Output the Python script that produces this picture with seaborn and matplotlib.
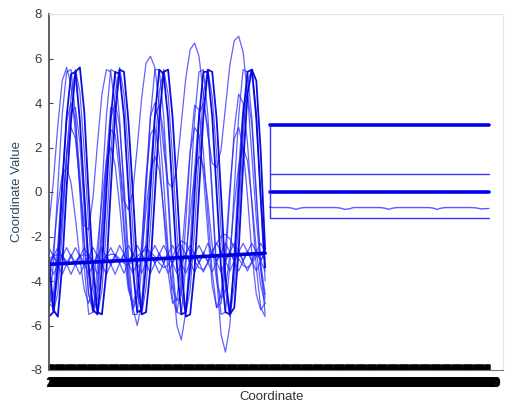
import matplotlib
matplotlib.use("Agg")
import matplotlib.pyplot as plt
import seaborn as sns
import numpy as np

sns.set_theme(style="white")
plt.rcParams['font.family'] = ['Liberation Sans', 'DejaVu Sans']

# ---------------- data ----------------
n_coords = 400
coord_labels = [str(i) for i in range(1, n_coords + 1)]
wave_coords = list(range(1, 200, 4))          # 50 sampled coordinates of the oscillating part
const_coords = [201, 400]                     # coordinates spanned by the constant lines

s_a = [-5.3, -3.2, 0.2, 3.5, 5.4, 5.5, 3.4, 0.0, -3.4, -5.5,
       -5.4, -3.3, 0.1, 3.4, 5.5, 5.4, 3.3, -0.1, -3.5, -5.5,
       -5.5, -3.4, 0.0, 3.4, 5.5, 5.5, 3.4, 0.1, -3.3, -5.4,
       -5.5, -3.4, -0.1, 3.3, 5.4, 5.5, 3.5, 0.0, -3.4, -5.5,
       -5.4, -3.3, 0.1, 3.4, 5.5, 5.4, 3.3, 0.0, -3.4, -5.5]
s_b = [-4.2, -5.4, -4.5, -1.8, 1.6, 4.3, 5.5, 4.5, 1.8, -1.6,
       -4.4, -5.5, -4.4, -1.7, 1.7, 4.4, 5.6, 4.4, 1.7, -1.7,
       -4.4, -5.5, -4.3, -1.6, 1.8, 4.5, 5.5, 4.4, 1.6, -1.8,
       -4.5, -5.5, -4.4, -1.7, 1.7, 4.4, 5.5, 4.3, 1.7, -1.7,
       -4.4, -5.6, -4.2, -1.2, 2.4, 5.0, 5.5, 3.6, -0.5, -4.0]
s_c = [-3.0, -5.3, -5.6, -3.3, 0.2, 3.2, 5.4, 5.6, 3.6, -0.2,
       -3.5, -5.4, -5.5, -3.6, 0.1, 3.5, 5.5, 5.4, 3.2, 0.0,
       -3.4, -5.5, -5.4, -3.4, -0.1, 3.3, 5.4, 5.5, 3.4, 0.1,
       -3.3, -5.6, -5.5, -3.5, 0.0, 3.4, 5.5, 5.4, 3.3, -0.1,
       -3.8, -5.5, -5.2, -2.6, 1.2, 4.4, 5.5, 5.0, 1.8, -2.6]
s_d = [-5.6, -5.4, -3.2, 0.2, 3.4, 5.3, 5.4, 3.2, -0.1, -3.3,
       -5.3, -5.5, -3.4, 0.0, 3.3, 5.4, 5.3, 3.4, 0.1, -3.4,
       -5.4, -5.3, -3.3, 0.1, 3.4, 5.5, 5.3, 3.3, 0.0, -3.3,
       -5.5, -5.4, -3.4, -0.1, 3.3, 5.4, 5.4, 3.4, 0.0, -3.4,
       -5.4, -5.5, -3.3, 0.0, 3.4, 5.4, 5.5, 3.3, -0.2, -3.4]
s_rise = [-1.5, 0.5, 3.0, 5.0, 5.6, 4.8, 2.6, 0.2, -1.5, -1.7,
          -0.2, 2.2, 4.4, 5.5, 5.4, 3.8, 1.4, -0.4, -0.8, 0.0,
          2.0, 4.2, 5.8, 6.1, 5.6, 3.9, 1.9, 0.4, 0.2, 1.1,
          3.1, 5.1, 6.4, 6.7, 6.1, 4.4, 2.6, 1.3, 1.1, 1.9,
          3.8, 5.7, 6.8, 7.0, 6.3, 4.4, 1.6, -1.2, -3.5, -4.8]
s_deep = [-5.0, -5.2, -3.8, -1.0, 1.8, 3.6, 3.8, 2.2, -0.8, -3.8,
          -5.4, -4.8, -2.4, 0.8, 3.3, 4.0, 3.0, 0.4, -2.8, -5.2,
          -6.0, -5.0, -2.2, 1.0, 3.4, 3.9, 2.6, -0.4, -3.8, -6.0,
          -6.65, -5.4, -2.4, 1.0, 3.5, 4.0, 2.9, -0.2, -3.8, -6.4,
          -7.2, -6.0, -2.8, 1.0, 3.8, 4.4, 3.0, -0.2, -3.2, -4.6]
s_q4 = [-5.0, -4.6, -2.4, 0.6, 3.2, 4.0, 3.2, 0.8, -2.2, -4.6,
        -5.4, -4.4, -1.8, 1.4, 3.8, 3.6, 1.6, -1.4, -4.0, -5.3,
        -4.8, -2.6, 0.6, 3.4, 4.0, 3.0, 0.4, -2.6, -4.8, -5.4,
        -4.2, -1.4, 1.8, 3.9, 3.7, 1.8, -1.0, -3.6, -5.2, -5.0,
        -3.2, -0.2, 2.8, 4.4, 4.0, 2.2, -0.6, -3.4, -5.2, -5.6]
s_q3 = [-3.8, -4.8, -3.6, -1.0, 1.6, 2.9, 2.4, 0.4, -2.4, -4.6,
        -5.2, -4.0, -1.4, 1.2, 2.8, 2.6, 0.8, -1.8, -4.2, -5.2,
        -4.6, -2.4, 0.6, 2.6, 2.9, 1.6, -1.0, -3.6, -5.0, -4.8,
        -3.0, -0.6, 1.8, 2.9, 2.6, 0.8, -1.8, -4.2, -5.2, -4.6,
        -2.6, 0.2, 2.4, 2.9, 2.0, -0.2, -2.8, -4.6, -5.3, -5.0]
s_q1 = [-4.0, -2.6, -0.6, 0.8, 1.1, 0.4, -1.2, -3.0, -4.4, -5.0,
        -4.2, -2.4, -0.4, 1.4, 2.0, 1.2, -0.6, -2.8, -4.4, -5.0,
        -4.4, -2.8, -0.8, 0.9, 1.6, 1.0, -0.8, -2.8, -4.3, -4.9,
        -4.6, -3.0, -1.0, 0.8, 1.6, 1.2, -0.4, -2.4, -4.0, -4.8,
        -4.4, -2.8, -0.6, 1.2, 2.0, 1.4, -0.4, -2.6, -4.2, -5.0]

low_1 = [-2.5, -2.9, -3.3, -2.9, -2.5, -2.9, -3.3, -2.9, -2.5, -2.9,
         -3.3, -2.9, -2.5, -2.9, -3.3, -2.9, -2.4, -2.8, -3.2, -2.8,
         -2.4, -2.8, -3.2, -2.8, -2.4, -2.8, -3.2, -2.8, -2.4, -2.8,
         -3.2, -2.8, -2.4, -2.8, -3.2, -2.8, -2.3, -2.7, -3.1, -2.7,
         -2.3, -2.7, -3.1, -2.7, -2.3, -2.7, -3.1, -2.7, -2.3, -2.7]
low_2 = [-3.3, -2.9, -2.5, -2.9, -3.3, -2.9, -2.5, -2.9, -3.3, -2.9,
         -2.5, -2.9, -3.3, -2.9, -2.5, -2.9, -3.2, -2.8, -2.4, -2.8,
         -3.2, -2.8, -2.4, -2.8, -3.2, -2.8, -2.4, -2.8, -3.2, -2.8,
         -2.4, -2.8, -3.2, -2.8, -2.4, -2.8, -3.1, -2.7, -2.3, -2.7,
         -3.1, -2.7, -2.3, -2.7, -3.1, -2.7, -2.3, -2.7, -3.1, -2.7]
low_3 = [-3.25, -3.7, -3.25, -2.8, -3.25, -3.7, -3.25, -2.8, -3.25, -3.7,
         -3.25, -2.8, -3.25, -3.7, -3.25, -2.8, -3.2, -3.65, -3.2, -2.75,
         -3.2, -3.65, -3.2, -2.75, -3.2, -3.65, -3.2, -2.75, -3.2, -3.65,
         -3.2, -2.75, -3.15, -3.6, -3.15, -2.7, -3.15, -3.6, -3.15, -2.7,
         -3.1, -3.55, -3.1, -2.65, -3.1, -3.55, -3.1, -2.65, -3.1, -3.55]
low_4 = [-3.25, -2.8, -3.25, -3.7, -3.25, -2.8, -3.25, -3.7, -3.25, -2.8,
         -3.25, -3.7, -3.25, -2.8, -3.25, -3.7, -3.2, -2.75, -3.2, -3.65,
         -3.2, -2.75, -3.2, -3.65, -3.2, -2.75, -3.2, -3.65, -3.2, -2.75,
         -3.2, -3.65, -3.15, -2.7, -3.15, -3.6, -3.15, -2.7, -3.15, -3.6,
         -3.1, -2.65, -3.1, -3.55, -3.1, -2.65, -3.1, -3.55, -3.1, -2.65]
low_5 = [-3.0, -2.9, -2.8, -2.9, -3.1, -3.2, -3.1, -2.9, -2.8, -2.9,
         -3.1, -3.2, -3.1, -2.9, -2.8, -2.8, -3.0, -3.2, -3.3, -3.1,
         -2.9, -2.7, -2.6, -2.7, -2.9, -3.2, -3.4, -3.3, -2.9, -2.5,
         -2.2, -2.3, -2.7, -3.1, -3.4, -3.5, -3.2, -2.7, -2.3, -2.0,
         -1.9, -2.1, -2.5, -3.0, -3.3, -3.4, -3.2, -2.9, -2.8, -3.0]
trend_coords = [1, 40, 80, 120, 160, 197]
trend_vals = [-3.25, -3.15, -3.05, -2.95, -2.85, -2.75]

const_top = [3.0, 3.0]
const_upper = [0.8, 0.8]
const_zero = [0.0, 0.0]
const_low_coords = [201, 201, 400]
const_low = [3.0, -1.15, -1.15]
wavy_coords = list(range(201, 397, 4)) + [400]
wavy_vals = [-0.68, -0.7, -0.7, -0.7, -0.7, -0.72, -0.78, -0.72, -0.7, -0.7,
             -0.7, -0.7, -0.7, -0.7, -0.7, -0.7, -0.72, -0.78, -0.76, -0.7,
             -0.7, -0.7, -0.7, -0.7, -0.7, -0.7, -0.72, -0.78, -0.72, -0.7,
             -0.7, -0.7, -0.7, -0.7, -0.7, -0.7, -0.7, -0.72, -0.78, -0.72,
             -0.7, -0.7, -0.7, -0.7, -0.7, -0.7, -0.7, -0.72, -0.76, -0.74]

# ---------------- figure ----------------
W, H = 506, 408
fig = plt.figure(figsize=(W / 100, H / 100), dpi=100)
ax_l, ax_r, ax_t, ax_b = 49, 503, 14, 370
ax = fig.add_axes([ax_l / W, (H - ax_b) / H, (ax_r - ax_l) / W, (ax_b - ax_t) / H])

thin = dict(color='#2424ff', alpha=0.72, lw=0.9)
dark = dict(color='#0000e0', alpha=0.95, lw=1.3)

def draw(x, y, style):
    sns.lineplot(x=x, y=y, ax=ax, estimator=None, sort=False, legend=False, **style)

for series in [s_q1, s_q3, s_q4, s_rise, s_deep, s_a, s_b]:
    draw(wave_coords, series, thin)
for series in [low_1, low_2, low_3, low_4, low_5]:
    draw(wave_coords, series, thin)
for series in [s_c, s_d]:
    draw(wave_coords, series, dark)
draw(trend_coords, trend_vals, dict(color='#0000e6', lw=2.6))

draw(const_coords, const_top, dict(color='#0000f0', lw=2.6))
draw(const_coords, const_upper, dict(color='#2020ff', lw=1.0, alpha=0.9))
draw(const_coords, const_zero, dict(color='#0000f0', lw=2.6))
draw(wavy_coords, wavy_vals, dict(color='#3030ff', lw=1.0, alpha=0.8))
draw(const_low_coords, const_low, dict(color='#2020ff', lw=1.0, alpha=0.9))

px_per = (489 - 49) / (n_coords - 1)
ax.set_xlim(1, 1 + (ax_r - ax_l) / px_per)
ax.set_ylim(-8, 8)

ax.set_xticks(range(1, n_coords + 1))
ax.set_xticklabels(coord_labels, fontsize=10.5, fontweight='bold', color='black')
ax.tick_params(axis='x', direction='in', length=4.5, width=1.8, color='black', pad=4, bottom=True)
ax.set_yticks(range(-8, 9, 2))
ax.set_yticklabels([str(v) for v in range(-8, 9, 2)], fontsize=9.5, color='#3a3a3a')
ax.tick_params(axis='y', direction='in', length=3, width=0.8, color='#444444', pad=5, left=True)

for side in ['top', 'right']:
    ax.spines[side].set_color('#e4e4e4')
    ax.spines[side].set_linewidth(0.8)
ax.spines['left'].set_color('#555555')
ax.spines['left'].set_linewidth(1.3)
ax.spines['bottom'].set_color('#777777')
ax.spines['bottom'].set_linewidth(0.8)

ax.set_xlabel('Coordinate', fontsize=9.5, color='#333333')
ax.set_ylabel('Coordinate Value', fontsize=9.5, color='#2e4a5e')
ax.xaxis.set_label_coords((272 - ax_l) / (ax_r - ax_l), -(391 - ax_b) / (ax_b - ax_t))
ax.yaxis.set_label_coords(-(49 - 23) / (ax_r - ax_l), 0.5)

fig.savefig('out.png', dpi=100, facecolor='white')
